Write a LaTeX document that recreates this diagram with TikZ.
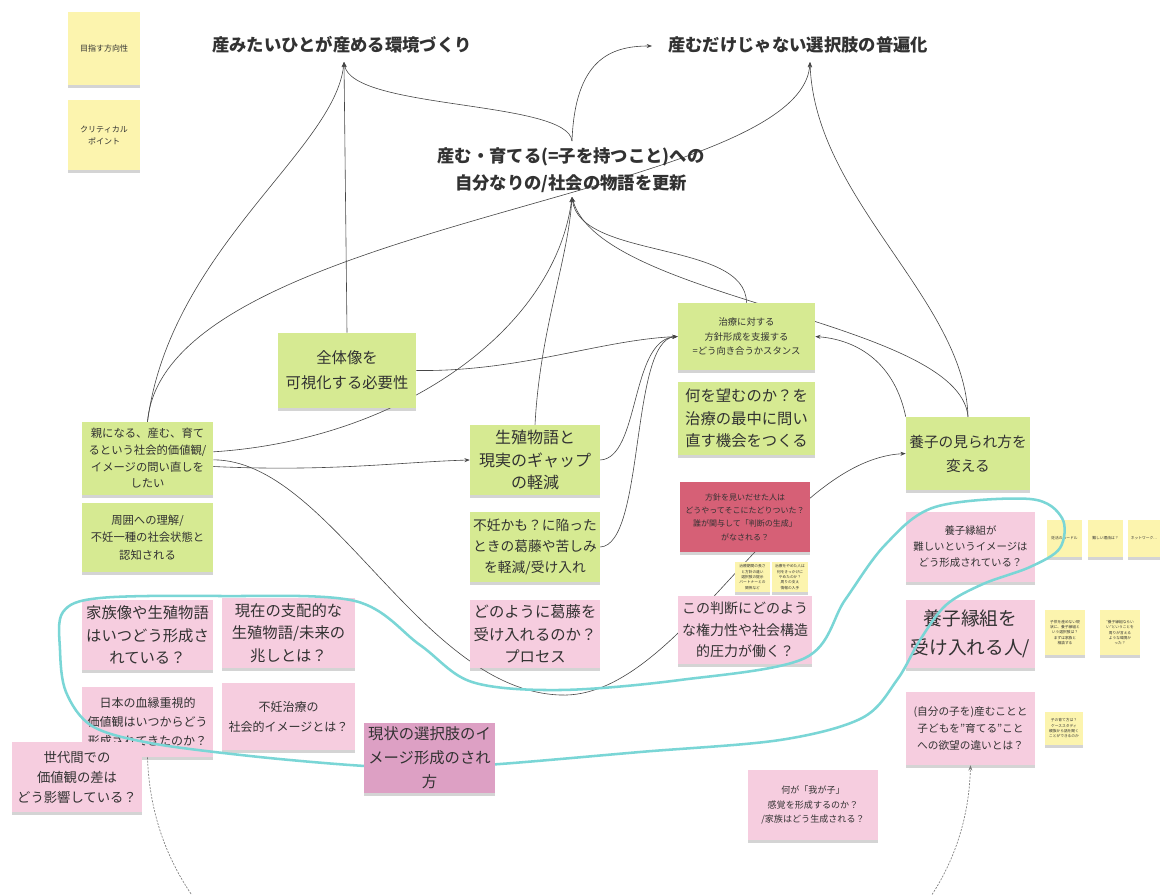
\documentclass[tikz,border=0pt]{standalone}
\usepackage{fontspec}
\setmainfont{Noto Sans CJK JP}
\usetikzlibrary{shadows,arrows.meta}
\definecolor{gnote}{RGB}{214,234,146}
\definecolor{pnote}{RGB}{246,205,223}
\definecolor{mnote}{RGB}{221,160,196}
\definecolor{rnote}{RGB}{214,96,118}
\definecolor{ynote}{RGB}{252,244,174}
\definecolor{ink}{RGB}{50,50,50}
\definecolor{edgec}{RGB}{70,70,70}
\definecolor{loopc}{RGB}{122,214,214}
\newcommand\fsz[2]{\fontsize{#1}{#2}\selectfont}
\newcommand\sticky[7]{\node[#2, minimum width={(#5-#3)*0.75pt}, minimum height={(#6-#4)*0.75pt}] (#1) at ({(#3+#5)/2},{(#4+#6)/2}) {#7};}
\pgfdeclarelayer{bg}
\pgfdeclarelayer{edges}
\pgfsetlayers{bg,edges,main}
\tikzset{
 note/.style={rectangle, inner sep=0pt, align=center, text=ink, drop shadow={shadow xshift=0pt, shadow yshift=-2.5pt, opacity=0.28, fill=black!60}},
 gst/.style={note, fill=gnote},
 pst/.style={note, fill=pnote},
 mst/.style={note, fill=mnote},
 rst/.style={note, fill=rnote},
 yst/.style={note, fill=ynote},
 title/.style={font=\bfseries\fsz{13}{20}, text=ink, inner sep=2pt, align=center},
 link/.style={draw=edgec, line width=0.45pt, -{Stealth[length=4pt,width=3pt]}},
 arcl/.style={draw=edgec!70, line width=0.5pt, dash pattern=on 1.5pt off 1pt, -{Stealth[length=4pt,width=3pt]}},
 lasso/.style={draw=loopc, line width=1.9pt, line cap=round, line join=round},
}
\begin{document}
\begin{tikzpicture}[x=0.75pt,y=-0.75pt]
\begin{pgfonlayer}{bg}
\fill[white] (0,0) rectangle (1160,895);
\end{pgfonlayer}
\useasboundingbox (0,0) rectangle (1160,895);

% titles
\node[title] (t1) at (342,45) {産みたいひとが産める環境づくり};
\node[title] (t2) at (798,45) {産むだけじゃない選択肢の普遍化};
\node[title] (t3) at (571,170) {産む・育てる(=子を持つこと)への\\自分なりの/社会の物語を更新};
\coordinate (t1b) at (344,62);
\coordinate (t2b) at (810,62);
\coordinate (t2w) at (652,46);
\coordinate (t3t) at (572,141);
\coordinate (t3b) at (572,197);

% legend
\sticky{y1}{yst,font=\fsz{6}{9}}{68}{12}{140}{85}{目指す方向性}
\sticky{y2}{yst,font=\fsz{6}{9}}{68}{100}{140}{170}{クリティカル\\ポイント}

% green
\sticky{g1}{gst,font=\fsz{11.5}{19}}{278}{333}{416}{408}{全体像を\\可視化する必要性}
\sticky{g2}{gst,font=\fsz{8.5}{12.5}}{82}{422}{213}{495}{親になる、産む、育て\\るという社会的価値観/\\イメージの問い直しを\\したい}
\sticky{g3}{gst,font=\fsz{8.5}{13}}{82}{503}{213}{572}{周囲への理解/\\不妊一種の社会状態と\\認知される}
\sticky{g4}{gst,font=\fsz{12}{17}}{470}{425}{600}{495}{生殖物語と\\現実のギャップ\\の軽減}
\sticky{g5}{gst,font=\fsz{10.3}{16}}{470}{512}{600}{582}{不妊かも？に陥った\\ときの葛藤や苦しみ\\を軽減/受け入れ}
\sticky{g6}{gst,font=\fsz{7}{11}}{678}{303}{815}{370}{治療に対する\\方針形成を支援する\\=どう向き合うかスタンス}
\sticky{g7}{gst,font=\fsz{11.5}{17}}{678}{382}{815}{455}{何を望むのか？を\\治療の最中に問い\\直す機会をつくる}
\sticky{g8}{gst,font=\fsz{11}{18}}{906}{417}{1030}{490}{養子の見られ方を\\変える}

% pink
\sticky{p1}{pst,font=\fsz{11.5}{17}}{82}{600}{213}{670}{家族像や生殖物語\\はいつどう形成さ\\れている？}
\sticky{p2}{pst,font=\fsz{11.5}{17}}{222}{598}{355}{668}{現在の支配的な\\生殖物語/未来の\\兆しとは？}
\sticky{p3}{pst,font=\fsz{9}{14}}{82}{687}{213}{757}{日本の血縁重視的\\価値観はいつからどう\\形成されてきたのか？}
\sticky{p4}{pst,font=\fsz{9}{15}}{222}{683}{355}{750}{不妊治療の\\社会的イメージとは？}
\sticky{p5}{pst,font=\fsz{10}{15}}{12}{742}{142}{812}{世代間での\\価値観の差は\\どう影響している？}
\sticky{p7}{pst,font=\fsz{11.5}{17}}{470}{600}{600}{668}{どのように葛藤を\\受け入れるのか？\\プロセス}
\sticky{r1}{rst,font=\fsz{6}{10}}{680}{482}{810}{552}{方針を見いだせた人は\\どうやってそこにたどりついた？\\誰が関与して「判断の生成」\\がなされる？}
\sticky{p8}{pst,font=\fsz{10.5}{16}}{678}{596}{812}{664}{この判断にどのよう\\な権力性や社会構造\\的圧力が働く？}
\sticky{p9}{pst,font=\fsz{7.8}{12}}{906}{512}{1035}{582}{養子縁組が\\難しいというイメージは\\どう形成されている？}
\sticky{p10}{pst,font=\fsz{14}{22}}{906}{600}{1035}{668}{養子縁組を\\受け入れる人/}
\sticky{p11}{pst,font=\fsz{8}{13}}{906}{692}{1035}{765}{(自分の子を)産むことと\\子どもを"育てる"こと\\への欲望の違いとは？}
\sticky{p12}{pst,font=\fsz{6.8}{11}}{748}{770}{878}{840}{何が「我が子」\\感覚を形成するのか？\\/家族はどう生成される？}

% small yellow notes
\sticky{ya}{yst,font=\fsz{2.8}{4}}{735}{562}{770}{592}{治療期間の長さ\\と方針の違い\\選択肢の提示\\パートナーとの\\関係など}
\sticky{yb}{yst,font=\fsz{2.8}{4}}{772}{562}{808}{592}{治療をやめた人は\\何をきっかけに\\やめたのか？\\周りの支え\\情報の入手}
\sticky{yc}{yst,font=\fsz{2.8}{4}}{1047}{520}{1082}{557}{妊活のハードル}
\sticky{yd}{yst,font=\fsz{2.8}{4}}{1088}{520}{1123}{557}{難しい理由は？}
\sticky{ye}{yst,font=\fsz{2.8}{4}}{1128}{520}{1160}{557}{ネットワーク…}
\sticky{yf}{yst,font=\fsz{2.8}{4}}{1045}{610}{1085}{655}{子供を産めない現\\状に、養子縁組と\\いう選択肢は？\\まずは家族と\\相談する}
\sticky{yg}{yst,font=\fsz{2.8}{4}}{1100}{610}{1140}{655}{"養子縁組ならい\\い"ということを\\周りが言える\\ような環境か\\った？}
\sticky{yh}{yst,font=\fsz{2.8}{4}}{1045}{712}{1083}{745}{子の育て方は？\\ケーススタディ\\親族から話を聞く\\ことができるのか}

% cyan lasso
\draw[lasso] plot[smooth cycle, tension=0.55] coordinates {(63,612) (100,598) (220,596) (355,601) (420,645) (472,682) (560,690) (680,680) (805,658) (845,600) (885,545) (935,507) (1030,499) (1062,518) (1060,548) (1030,567) (983,584) (946,605) (920,640) (897,680) (862,718) (780,740) (640,752) (500,764) (420,768) (350,765) (250,756) (150,743) (92,726) (66,692) (60,650)};

\sticky{p6}{mst,font=\fsz{11.5}{18}}{364}{723}{495}{793}{現状の選択肢のイ\\メージ形成のされ\\方}

% connectors
\begin{pgfonlayer}{edges}
\draw[link] (g1.north) -- (t1b);
\draw[link] (g2.north) .. controls (170,250) and (335,150) .. (t1b);
\draw[link] (g2.north) .. controls (165,220) and (800,200) .. (t2b);
\draw[link] (t3t) .. controls (568,100) and (352,110) .. (t1b);
\draw[link] (t3t) .. controls (575,60) and (610,46) .. (t2w);
\draw[link] (g8.north) .. controls (965,300) and (815,200) .. (t2b);
\draw[link] (g8.north) .. controls (960,320) and (600,300) .. (t3b);
\draw[link] (g6.north) .. controls (746,240) and (580,260) .. (t3b);
\draw[link] (g4.north) .. controls (540,330) and (568,260) .. (t3b);
\draw[link] ([yshift=5pt]g2.east) .. controls (400,440) and (555,330) .. (t3b);
\draw[link] ([yshift=-6pt]g2.east) .. controls (330,472) and (400,462) .. (g4.west);
\draw[link] ([yshift=-1pt]g2.east) .. controls (330,460) and (420,690) .. (560,695) .. controls (680,700) and (780,460) .. (g8.west);
\draw[link] (g1.east) .. controls (520,372) and (600,340) .. (g6.west);
\draw[link] (g4.east) .. controls (640,458) and (630,340) .. (g6.west);
\draw[link] (g5.east) .. controls (645,545) and (630,340) .. (g6.west);
\draw[link] (g8.north west) .. controls (895,365) and (860,340) .. (g6.east);
\begin{scope}
\clip (0,0) rectangle (1160,895);
\draw[arcl] (p3.south) .. controls (160,1150) and (960,1150) .. (p11.south);
\end{scope}
\end{pgfonlayer}
\end{tikzpicture}
\end{document}
